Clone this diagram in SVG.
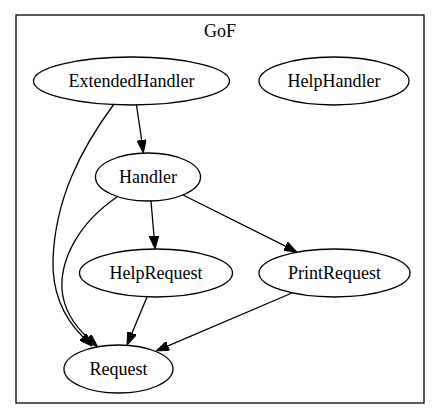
<svg xmlns="http://www.w3.org/2000/svg" width="440" height="420" viewBox="0 0 440 420">
<style>
.n ellipse{fill:none;stroke:#000;stroke-width:1.3}
text{font-family:"Liberation Serif","Times New Roman",serif;font-size:18px;fill:#000;text-anchor:middle}
.e path{fill:none;stroke:#000;stroke-width:1.3;marker-end:url(#ah)}
</style>
<defs>
<marker id="ah" viewBox="0 0 13 9.4" refX="0" refY="4.7" markerWidth="13" markerHeight="9.4" markerUnits="userSpaceOnUse" orient="auto">
<path d="M0,0 L13,4.7 L0,9.4 z" fill="#000" stroke="#000" stroke-width="1"/>
</marker>
</defs>
<rect fill="#fff" width="440" height="420"/>
<g id="cluster_GoF">
<rect x="16" y="15" width="408" height="388" fill="none" stroke="#000" stroke-width="1.3"/>
<text x="220" y="37">GoF</text>
</g>
<g class="e" id="edges">
<path d="M136.5,105 C138,116 140,128 141.6,140"/>
<path d="M151,201 L154,236"/>
<path d="M183,195 L285.4,246.2"/>
<path d="M147,297 L132,333"/>
<path d="M292,293 L168,345.9"/>
<path d="M114,104 C80,150 55,200 53,260 C52,295 66,320 83,337"/>
<path d="M117,197 C80,222 60,258 62,290 C64,312 76,327 88,338"/>
</g>
<g class="n" id="ExtendedHandler"><ellipse cx="131.5" cy="81" rx="98" ry="24"/><text x="131.5" y="87">ExtendedHandler</text></g>
<g class="n" id="HelpHandler"><ellipse cx="334" cy="81" rx="75" ry="24"/><text x="334" y="87">HelpHandler</text></g>
<g class="n" id="Handler"><ellipse cx="148" cy="177" rx="52.5" ry="24"/><text x="148" y="183">Handler</text></g>
<g class="n" id="HelpRequest"><ellipse cx="156" cy="273" rx="76.5" ry="24"/><text x="156" y="279">HelpRequest</text></g>
<g class="n" id="PrintRequest"><ellipse cx="334.5" cy="273" rx="75.5" ry="24"/><text x="334.5" y="279">PrintRequest</text></g>
<g class="n" id="Request"><ellipse cx="118.5" cy="369" rx="54.5" ry="24"/><text x="118.5" y="375">Request</text></g>
</svg>
